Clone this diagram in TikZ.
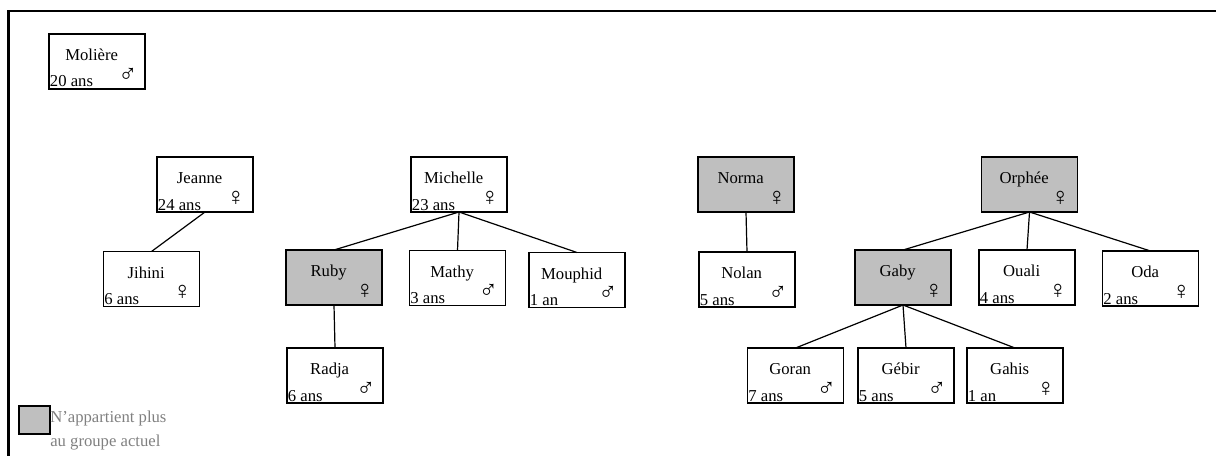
\documentclass[tikz,border=0pt]{standalone}
\usepackage{fontspec}
\setmainfont{Liberation Serif}
\usepackage{tikz}
\usetikzlibrary{positioning}
\definecolor{gonegray}{rgb}{0.75, 0.75, 0.75}
\definecolor{notegray}{rgb}{0.5, 0.5, 0.5}

\begin{document}
\begin{tikzpicture}[x=0.75pt,y=-0.75pt]
  \tikzset{VertexStyle/.style = {
    shape         = rectangle,
    draw          = black,
    fill          = white,
    line width    = 1.2pt,
    inner sep     = 0pt,
    outer sep     = 0pt,
    minimum width = 72pt,
    minimum height= 41.25pt
    }
  }
  \tikzset{GoneStyle/.style = {
    VertexStyle,
    fill          = gonegray
    }
  }
  \tikzset{NameStyle/.style = {
    anchor        = base,
    inner sep     = 0pt,
    xshift        = -4pt,
    yshift        = -20pt,
    font          = \fontsize{12.5}{14}\selectfont
    }
  }
  \tikzset{AgeStyle/.style = {
    anchor        = base west,
    inner sep     = 0pt,
    xshift        = 0.5pt,
    yshift        = 1.5pt,
    font          = \fontsize{12.5}{14}\selectfont
    }
  }
  \tikzset{SexStyle/.style = {
    anchor        = base east,
    inner sep     = 0pt,
    xshift        = -5.5pt,
    yshift        = 5pt,
    font          = \fontsize{19}{20}\selectfont
    }
  }
  \tikzset{EdgeStyle/.style = {
    draw          = black,
    line width    = 0.9pt
    }
  }
  \useasboundingbox (0,0) rectangle (1216,456);

  % cadre
  \draw[line width=1.6pt] (1216,11) -- (8.5,11) -- (8.5,456);

  \node[VertexStyle, label={[NameStyle]north:Molière}, label={[AgeStyle]south west:20 ans}, label={[SexStyle]south east:♂}](P1) at (97, 61.5) {};

  \node[VertexStyle, label={[NameStyle]north:Jeanne}, label={[AgeStyle]south west:24 ans}, label={[SexStyle]south east:♀}](A1) at (205, 184.5) {};
  \node[VertexStyle, label={[NameStyle]north:Michelle}, label={[AgeStyle]south west:23 ans}, label={[SexStyle]south east:♀}](A2) at (459, 184.5) {};
  \node[GoneStyle, label={[NameStyle]north:Norma}, label={[SexStyle]south east:♀}](A3) at (746, 184.5) {};
  \node[GoneStyle, label={[NameStyle]north:Orphée}, label={[SexStyle]south east:♀}](A4) at (1029.5, 184.5) {};

  \node[VertexStyle, label={[NameStyle]north:Jihini}, label={[AgeStyle]south west:6 ans}, label={[SexStyle]south east:♀}](B1) at (151.5, 279) {};
  \node[GoneStyle, label={[NameStyle]north:Ruby}, label={[SexStyle]south east:♀}](B2) at (334, 277.5) {};
  \node[VertexStyle, label={[NameStyle]north:Mathy}, label={[AgeStyle]south west:3 ans}, label={[SexStyle]south east:♂}](B3) at (457.5, 278) {};
  \node[VertexStyle, label={[NameStyle]north:Mouphid}, label={[AgeStyle]south west:1 an}, label={[SexStyle]south east:♂}](B4) at (577, 280) {};
  \node[VertexStyle, label={[NameStyle]north:Nolan}, label={[AgeStyle]south west:5 ans}, label={[SexStyle]south east:♂}](B5) at (747, 279.5) {};
  \node[GoneStyle, label={[NameStyle]north:Gaby}, label={[SexStyle]south east:♀}](B6) at (903, 277.5) {};
  \node[VertexStyle, label={[NameStyle]north:Ouali}, label={[AgeStyle]south west:4 ans}, label={[SexStyle]south east:♀}](B7) at (1027, 277.5) {};
  \node[VertexStyle, label={[NameStyle]north:Oda}, label={[AgeStyle]south west:2 ans}, label={[SexStyle]south east:♀}](B8) at (1150.5, 278.5) {};

  \node[VertexStyle, label={[NameStyle]north:Radja}, label={[AgeStyle]south west:6 ans}, label={[SexStyle]south east:♂}](C1) at (335, 375.5) {};
  \node[VertexStyle, label={[NameStyle]north:Goran}, label={[AgeStyle]south west:7 ans}, label={[SexStyle]south east:♂}](C2) at (795.5, 375.5) {};
  \node[VertexStyle, label={[NameStyle]north:Gébir}, label={[AgeStyle]south west:5 ans}, label={[SexStyle]south east:♂}](C3) at (906, 375.5) {};
  \node[VertexStyle, label={[NameStyle]north:Gahis}, label={[AgeStyle]south west:1 an}, label={[SexStyle]south east:♀}](C4) at (1015, 375.5) {};

  \draw[EdgeStyle](A1.south) to (B1.north);
  \draw[EdgeStyle](A2.south) to (B2.north);
  \draw[EdgeStyle](A2.south) to (B3.north);
  \draw[EdgeStyle](A2.south) to (B4.north);
  \draw[EdgeStyle](B2.south) to (C1.north);
  \draw[EdgeStyle](A3.south) to (B5.north);
  \draw[EdgeStyle](A4.south) to (B6.north);
  \draw[EdgeStyle](A4.south) to (B7.north);
  \draw[EdgeStyle](A4.south) to (B8.north);
  \draw[EdgeStyle](B6.south) to (C2.north);
  \draw[EdgeStyle](B6.south) to (C3.north);
  \draw[EdgeStyle](B6.south) to (C4.north);

  % legende
  \node[GoneStyle, minimum width=23pt, minimum height=21pt](L0) at (34.5, 420) {};
  \node[anchor=base west, inner sep=0pt, text=notegray, font=\fontsize{12.5}{14}\selectfont](L1) at (50, 422) {N'appartient plus};
  \node[anchor=base west, inner sep=0pt, text=notegray, font=\fontsize{12.5}{14}\selectfont](L2) at (50, 446) {au groupe actuel};
\end{tikzpicture}
\end{document}
